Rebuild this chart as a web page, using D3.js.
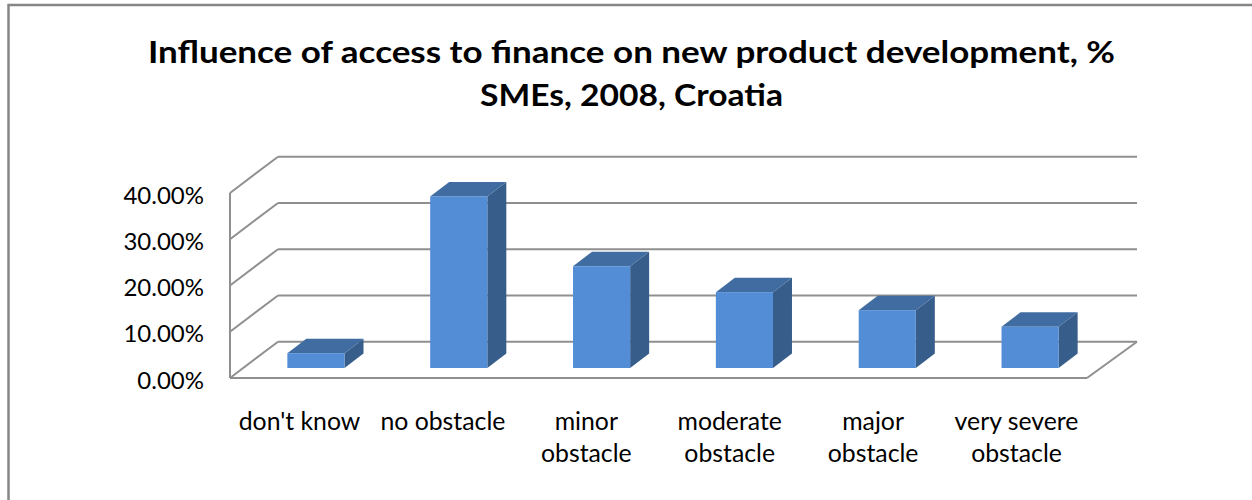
<!DOCTYPE html>
<html>
<head>
<meta charset="utf-8">
<script src="https://cdn.jsdelivr.net/npm/d3@7"></script>
<style>
  html, body { margin: 0; padding: 0; background: #fff; }
  svg { display: block; }
  text { font-family: Lato, "Open Sans", sans-serif; fill: #000; }
</style>
</head>
<body>
<svg id="chart" width="1252" height="500"></svg>
<script>
const categories = ["don't know", "no obstacle", "minor obstacle", "moderate obstacle", "major obstacle", "very severe obstacle"];
const categoryLines = [["don't know"], ["no obstacle"], ["minor", "obstacle"], ["moderate", "obstacle"], ["major", "obstacle"], ["very severe", "obstacle"]];
const shares = [3.2, 37.1, 22.0, 16.4, 12.5, 8.9];
const axisTicks = [0, 10, 20, 30, 40];
const titleLines = ["Influence of access to finance on new product development, %", "SMEs, 2008, Croatia"];

const svg = d3.select("#chart");

// Box geometry: front plane of the plot, and the shift to its back wall.
const frontLeft = 230, frontRight = 1087, floorY = 378, topY = 193;
const depthX = 48, depthY = -36.3;
const barDepthX = 19, barDepthY = -14.5, barInset = 10;

const y = d3.scaleLinear().domain([0, 40]).range([floorY, topY]);
const x = d3.scaleBand().domain(categories)
  .range([frontLeft + 14.5, frontRight + 14.5]).paddingInner(0.6).paddingOuter(0.3);
const labelX = d3.scalePoint().domain(d3.range(categories.length)).range([299.5, 1016.5]);

// Frame
svg.append("rect").attr("x", 8.5).attr("y", 5).attr("width", 1500).attr("height", 600)
  .attr("fill", "#fff").attr("stroke", "#868686").attr("stroke-width", 2.5);

// Title, set wide across the top of the frame
const titleWidths = [967, 303];
svg.selectAll(".title").data(titleLines).join("text")
  .attr("class", "title")
  .attr("x", (d, i) => 631.5)
  .attr("y", (d, i) => 63 + i * 43)
  .attr("text-anchor", "middle")
  .attr("font-size", 31).attr("font-weight", 700)
  .attr("textLength", (d, i) => titleWidths[i])
  .attr("lengthAdjust", "spacingAndGlyphs")
  .text(d => d);

// Walls: horizontal rules on the back wall, slanted rules on the side wall
const grid = svg.append("g").attr("fill", "none").attr("stroke", "#8f8f8f").attr("stroke-width", 2);
grid.selectAll(".back").data(axisTicks).join("line")
  .attr("class", "back")
  .attr("x1", frontLeft + depthX).attr("x2", frontRight + 50)
  .attr("y1", d => y(d) + depthY).attr("y2", d => y(d) + depthY);
grid.selectAll(".side").data(axisTicks).join("line")
  .attr("class", "side")
  .attr("x1", frontLeft).attr("x2", frontLeft + depthX)
  .attr("y1", d => y(d)).attr("y2", d => y(d) + depthY);
grid.append("line").attr("x1", frontLeft).attr("x2", frontLeft)
  .attr("y1", topY).attr("y2", floorY);
grid.append("line").attr("x1", frontLeft).attr("x2", frontRight)
  .attr("y1", floorY).attr("y2", floorY);
grid.append("line").attr("x1", frontRight).attr("x2", frontRight + 50)
  .attr("y1", floorY).attr("y2", floorY + depthY);

// Value axis labels
const yAxis = d3.axisLeft(y).tickValues(axisTicks).tickSize(0).tickPadding(0)
  .tickFormat(d => d3.format(".2f")(d) + "%");
const yAxisG = svg.append("g").attr("transform", "translate(204,1.5)").call(yAxis);
yAxisG.select(".domain").remove();
yAxisG.selectAll("text").attr("font-size", 24).attr("font-family", "Lato, sans-serif")
  .attr("dy", "0.36em");
yAxisG.attr("font-family", null);

// Bars: side, top, then front face
const base = floorY - barInset;
const bars = svg.selectAll(".bar").data(categories.map((c, i) => ({ c, v: shares[i] }))).join("g").attr("class", "bar");
const topOf = d => base - (floorY - y(d.v));

bars.append("path").attr("fill", "#375d8a").attr("d", d => {
  const r = x(d.c) + x.bandwidth(), t = topOf(d);
  return `M${r},${t}L${r + barDepthX},${t + barDepthY}L${r + barDepthX},${base + barDepthY}L${r},${base}Z`;
});
bars.append("path").attr("fill", "#406ca1").attr("d", d => {
  const l = x(d.c), r = l + x.bandwidth(), t = topOf(d);
  return `M${l},${t}L${l + barDepthX},${t + barDepthY}L${r + barDepthX},${t + barDepthY}L${r},${t}Z`;
});
bars.append("rect").attr("fill", "#528dd6")
  .attr("x", d => x(d.c)).attr("width", x.bandwidth())
  .attr("y", topOf).attr("height", d => base - topOf(d));

// Category labels, wrapped onto two lines where needed
const labels = svg.selectAll(".cat").data(categoryLines).join("text")
  .attr("class", "cat")
  .attr("text-anchor", "middle")
  .attr("font-size", 24.8);
labels.selectAll("tspan").data((d, i) => d.map(line => ({ line, i }))).join("tspan")
  .attr("x", d => labelX(d.i))
  .attr("y", (d, j) => 430 + j * 32)
  .text(d => d.line);
</script>
</body>
</html>
